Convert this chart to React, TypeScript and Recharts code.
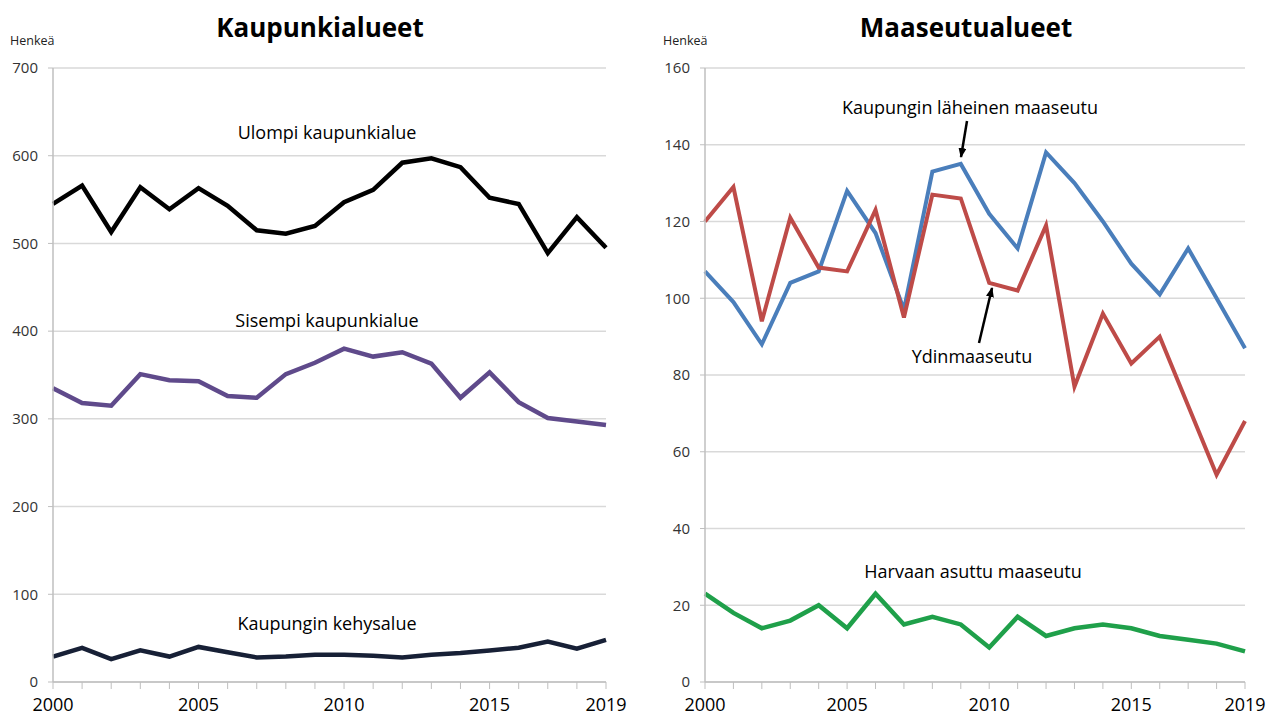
import { LineChart, Line, XAxis, YAxis, CartesianGrid } from "recharts"

const years = [2000, 2001, 2002, 2003, 2004, 2005, 2006, 2007, 2008, 2009, 2010, 2011, 2012, 2013, 2014, 2015, 2016, 2017, 2018, 2019]
const labeledYears = [2000, 2005, 2010, 2015, 2019]

// Kaupunkialueet
const ulompi = [545, 566, 513, 564, 539, 563, 543, 515, 511, 520, 547, 561, 592, 597, 587, 552, 545, 489, 530, 495]
const sisempi = [335, 318, 315, 351, 344, 343, 326, 324, 351, 364, 380, 371, 376, 363, 324, 353, 319, 301, 297, 293]
const kehys = [29, 39, 26, 36, 29, 40, 34, 28, 29, 31, 31, 30, 28, 31, 33, 36, 39, 46, 38, 48]
const cityTicks = [0, 100, 200, 300, 400, 500, 600, 700]

// Maaseutualueet
const laheinen = [107, 99, 88, 104, 107, 128, 117, 97, 133, 135, 122, 113, 138, 130, 120, 109, 101, 113, 100, 87]
const ydin = [120, 129, 94, 121, 108, 107, 123, 95, 127, 126, 104, 102, 119, 77, 96, 83, 90, 72, 54, 68]
const harvaan = [23, 18, 14, 16, 20, 14, 23, 15, 17, 15, 9, 17, 12, 14, 15, 14, 12, 11, 10, 8]
const ruralTicks = [0, 20, 40, 60, 80, 100, 120, 140, 160]

const cityData = years.map((year, i) => ({ year, ulompi: ulompi[i], sisempi: sisempi[i], kehys: kehys[i] }))
const ruralData = years.map((year, i) => ({ year, laheinen: laheinen[i], ydin: ydin[i], harvaan: harvaan[i] }))

const FONT = "'Open Sans', Lato, sans-serif"
const AXIS_GRAY = "#bfbfbf"

function YearTick(props: any) {
  const { x, y, payload } = props
  if (!labeledYears.includes(payload.value)) return <g />
  return (
    <text x={x} y={y} dy={20} textAnchor="middle" fontSize={18} fill="#000" fontFamily={FONT}>
      {payload.value}
    </text>
  )
}

const yTickStyle = { fontSize: 15, fill: "#333", fontFamily: FONT }

export default function App() {
  return (
    <div style={{ position: "absolute", left: 0, top: 0, width: 1268, height: 719, background: "#fff", fontFamily: FONT }}>
      <div style={{ position: "absolute", left: 0, top: 0 }}>
        <LineChart width={640} height={719} data={cityData} margin={{ top: 68, right: 34, left: 0, bottom: 0 }}>
          <CartesianGrid vertical={false} stroke="#d9d9d9" strokeWidth={1.5} />
          <XAxis
            dataKey="year"
            type="number"
            domain={[2000, 2019]}
            ticks={years}
            interval={0}
            height={37}
            tickSize={7}
            tickMargin={2}
            axisLine={{ stroke: AXIS_GRAY, strokeWidth: 1.5 }}
            tickLine={{ stroke: AXIS_GRAY }}
            tick={<YearTick />}
          />
          <YAxis
            domain={[0, 700]}
            ticks={cityTicks}
            width={53}
            tickSize={5}
            tickMargin={10}
            axisLine={{ stroke: AXIS_GRAY, strokeWidth: 1.5 }}
            tickLine={{ stroke: AXIS_GRAY }}
            tick={yTickStyle}
          />
          <Line dataKey="ulompi" stroke="#000" strokeWidth={4.5} dot={false} isAnimationActive={false} />
          <Line dataKey="sisempi" stroke="#5f4a8b" strokeWidth={4.5} dot={false} isAnimationActive={false} />
          <Line dataKey="kehys" stroke="#172036" strokeWidth={4.5} dot={false} isAnimationActive={false} />
        </LineChart>
      </div>

      <div style={{ position: "absolute", left: 640, top: 0 }}>
        <LineChart width={628} height={719} data={ruralData} margin={{ top: 68, right: 23, left: 0, bottom: 0 }}>
          <CartesianGrid vertical={false} stroke="#d9d9d9" strokeWidth={1.5} />
          <XAxis
            dataKey="year"
            type="number"
            domain={[2000, 2019]}
            ticks={years}
            interval={0}
            height={37}
            tickSize={7}
            tickMargin={2}
            axisLine={{ stroke: AXIS_GRAY, strokeWidth: 1.5 }}
            tickLine={{ stroke: AXIS_GRAY }}
            tick={<YearTick />}
          />
          <YAxis
            domain={[0, 160]}
            ticks={ruralTicks}
            width={65}
            tickSize={5}
            tickMargin={10}
            axisLine={{ stroke: AXIS_GRAY, strokeWidth: 1.5 }}
            tickLine={{ stroke: AXIS_GRAY }}
            tick={yTickStyle}
          />
          <Line dataKey="laheinen" stroke="#4a7ebb" strokeWidth={4} dot={false} isAnimationActive={false} />
          <Line dataKey="ydin" stroke="#be4b48" strokeWidth={4} dot={false} isAnimationActive={false} />
          <Line dataKey="harvaan" stroke="#1fa04a" strokeWidth={4.5} dot={false} isAnimationActive={false} />
        </LineChart>
      </div>

      {/* titles, unit labels, series labels and arrows */}
      <svg width={1268} height={719} style={{ position: "absolute", left: 0, top: 0, pointerEvents: "none" }} fontFamily={FONT}>
        <defs>
          <marker id="arrow" markerWidth="10" markerHeight="8" refX="9" refY="4" orient="auto" markerUnits="userSpaceOnUse">
            <path d="M0,0 L10,4 L0,8 z" fill="#000" />
          </marker>
        </defs>
        <text x={320} y={37} textAnchor="middle" fontSize={26} fontWeight="bold" fill="#000">Kaupunkialueet</text>
        <text x={966} y={37} textAnchor="middle" fontSize={26} fontWeight="bold" fill="#000">Maaseutualueet</text>
        <text x={10} y={45} fontSize={12.5} fill="#222">Henkeä</text>
        <text x={663} y={45} fontSize={12.5} fill="#222">Henkeä</text>

        <text x={327} y={139} textAnchor="middle" fontSize={18} fill="#000">Ulompi kaupunkialue</text>
        <text x={327} y={327} textAnchor="middle" fontSize={18} fill="#000">Sisempi kaupunkialue</text>
        <text x={327} y={630} textAnchor="middle" fontSize={18} fill="#000">Kaupungin kehysalue</text>

        <text x={970} y={114} textAnchor="middle" fontSize={18} fill="#000">Kaupungin läheinen maaseutu</text>
        <line x1={967} y1={121} x2={961} y2={157} stroke="#000" strokeWidth={2.5} markerEnd="url(#arrow)" />
        <text x={972} y={363} textAnchor="middle" fontSize={18} fill="#000">Ydinmaaseutu</text>
        <line x1={979} y1={343} x2={992} y2={288} stroke="#000" strokeWidth={2.5} markerEnd="url(#arrow)" />
        <text x={973} y={578} textAnchor="middle" fontSize={18} fill="#000">Harvaan asuttu maaseutu</text>
      </svg>
    </div>
  )
}
